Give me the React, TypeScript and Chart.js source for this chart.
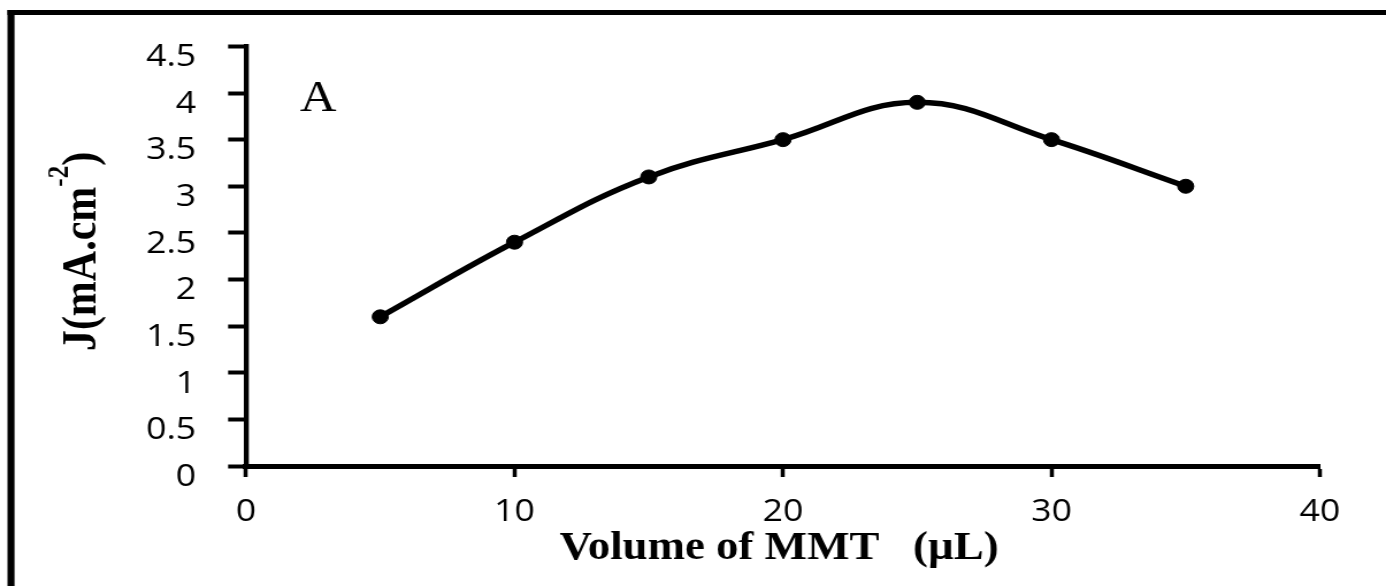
import React, { useEffect, useRef } from "react";
import { Chart, registerables } from "chart.js";

Chart.register(...registerables);

// ---- data ----
const volumes = [5, 10, 15, 20, 25, 30, 35];
const currentDensity = [1.6, 2.4, 3.1, 3.5, 3.9, 3.5, 3.0];
const xTickValues = [0, 10, 20, 30, 40];
const yTickValues = [0, 0.5, 1, 1.5, 2, 2.5, 3, 3.5, 4, 4.5];
const xTitle = "Volume of MMT   (\u00B5L)";
const yTitleMain = "J(mA.cm";
const yTitleSup = "-2";
const yTitleEnd = ")";
const panelLabel = "A";

// ---- layout (chart drawn narrower then stretched horizontally) ----
const PAGE_W = 1386;
const PAGE_H = 586;
const INNER_W = 1205;
const STRETCH = PAGE_W / INNER_W;

const decorPlugin = {
  id: "decor",
  beforeDraw(chart: any) {
    const ctx = chart.ctx;
    ctx.save();
    ctx.fillStyle = "#ffffff";
    ctx.fillRect(0, 0, chart.width, chart.height);
    ctx.fillStyle = "#000000";
    ctx.fillRect(6.5, 10, 6.1, chart.height);
    ctx.fillRect(6.5, 10, chart.width, 5);
    ctx.restore();
  },
  afterDraw(chart: any) {
    const ctx = chart.ctx;
    ctx.save();
    ctx.fillStyle = "#000000";
    ctx.textBaseline = "alphabetic";

    ctx.font = '44px "Liberation Serif"';
    ctx.textAlign = "left";
    ctx.fillText(panelLabel, 260.8, 111);

    ctx.font = 'bold 39px "Liberation Serif"';
    ctx.textAlign = "center";
    ctx.fillText(xTitle, 677.3, 559);

    ctx.translate(82.6, 251.5);
    ctx.rotate(-Math.PI / 2);
    ctx.textAlign = "left";
    const mainFont = 'bold 42px "Liberation Serif"';
    const supFont = 'bold 25px "Liberation Serif"';
    ctx.font = mainFont;
    const wMain = ctx.measureText(yTitleMain).width;
    const wEnd = ctx.measureText(yTitleEnd).width;
    ctx.font = supFont;
    const wSup = ctx.measureText(yTitleSup).width;
    const total = wMain + wSup + wEnd;
    const start = -total / 2;
    ctx.font = mainFont;
    ctx.fillText(yTitleMain, start, 0);
    ctx.font = supFont;
    ctx.fillText(yTitleSup, start + wMain, -24);
    ctx.font = mainFont;
    ctx.fillText(yTitleEnd, start + wMain + wSup, 0);
    ctx.restore();
  },
};

export default function App() {
  const canvasRef = useRef<HTMLCanvasElement | null>(null);

  useEffect(() => {
    if (!canvasRef.current) return;
    const chart = new Chart(canvasRef.current, {
      type: "line",
      data: {
        datasets: [
          {
            data: volumes.map((v, i) => ({ x: v, y: currentDensity[i] })),
            borderColor: "#000000",
            backgroundColor: "#000000",
            borderWidth: 5.5,
            tension: 0.4,
            pointRadius: 7,
            pointBorderWidth: 1,
            pointBackgroundColor: "#000000",
            pointBorderColor: "#000000",
            fill: false,
          },
        ],
      },
      options: {
        animation: false,
        responsive: true,
        maintainAspectRatio: false,
        layout: { padding: { left: 0, top: 45, right: INNER_W - 1147.6, bottom: 50 } },
        plugins: {
          legend: { display: false },
          tooltip: { enabled: false },
          title: { display: false },
        },
        scales: {
          x: {
            type: "linear",
            min: 0,
            max: 40,
            afterFit: (scale: any) => {
              scale.height = 70;
            },
            afterBuildTicks: (scale: any) => {
              scale.ticks = xTickValues.map((v) => ({ value: v }));
            },
            border: { display: true, color: "#000000", width: 5 },
            grid: {
              drawOnChartArea: false,
              drawTicks: true,
              color: "#000000",
              tickLength: 11,
              tickWidth: 3.5,
            },
            ticks: {
              color: "#000000",
              padding: 17,
              font: { family: '"Open Sans"', size: 31 },
              callback: (value: any) => String(value),
            },
          },
          y: {
            type: "linear",
            min: 0,
            max: 4.5,
            afterFit: (scale: any) => {
              scale.width = 213.9;
            },
            afterBuildTicks: (scale: any) => {
              scale.ticks = yTickValues.map((v) => ({ value: v }));
            },
            border: { display: true, color: "#000000", width: 4.3 },
            grid: {
              drawOnChartArea: false,
              drawTicks: true,
              color: "#000000",
              tickLength: 15.6,
              tickWidth: 4,
            },
            ticks: {
              color: "#000000",
              padding: 27.8,
              labelOffset: 11,
              font: { family: '"Open Sans"', size: 31 },
              callback: (value: any) => String(value),
            },
          },
        },
      },
      plugins: [decorPlugin],
    });
    return () => chart.destroy();
  }, []);

  return (
    <div
      style={{
        position: "absolute",
        left: 0,
        top: 0,
        width: PAGE_W,
        height: PAGE_H,
        overflow: "hidden",
        background: "#ffffff",
      }}
    >
      <div
        style={{
          position: "relative",
          width: INNER_W,
          height: PAGE_H,
          transform: `scaleX(${STRETCH})`,
          transformOrigin: "0 0",
        }}
      >
        <canvas ref={canvasRef} />
      </div>
    </div>
  );
}
